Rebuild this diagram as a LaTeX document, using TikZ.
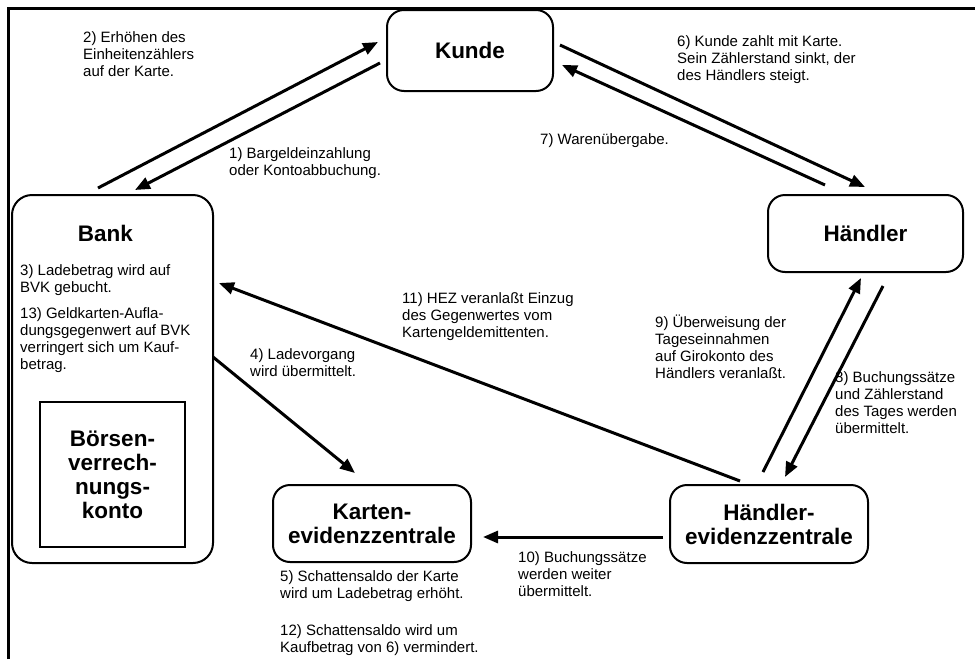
\documentclass[tikz,border=0pt]{standalone}
\usepackage{fontspec}
\setmainfont{Liberation Sans}
\usetikzlibrary{arrows.meta, positioning, calc}

\begin{document}
\begin{tikzpicture}[x=1pt, y=-1pt,
		box/.style={draw, line width=2pt, outer sep=0pt, rounded corners=17pt, align=center, font=\fontsize{22.5}{24}\selectfont\bfseries},
		note/.style={anchor=north west, inner sep=0pt, align=left, font=\fontsize{15}{17}\selectfont},
		flow/.style={->, line width=3pt},
		>={Triangle[length=15pt, width=12pt]}]
			\useasboundingbox (0,0) rectangle (975,659);
			% Frame
			\draw[line width=3pt] (8.5,659) -- (8.5,8.5) -- (975,8.5);
			% Boxes
			\node[box, minimum width=166pt, minimum height=81pt] (kunde) at (470,50.5) {Kunde};
			\node[box, minimum width=195pt, minimum height=77pt] (haendler) at (865.5,233.5) {Händler};
			\node[box, rounded corners=20pt, minimum width=201pt, minimum height=368pt] (bank) at (112.5,379) {};
			\node[box, rounded corners=0pt, minimum width=145pt, minimum height=145pt] (boersen) at (112.5,474.5) {Börsen-\\verrech-\\nungs-\\konto};
			\node[box, minimum width=198pt, minimum height=77pt] (karten) at (372,523.5) {Karten-\\evidenzzentrale};
			\node[box, minimum width=198pt, minimum height=78pt] (hez) at (769,524) {Händler-\\evidenzzentrale};
			\node[anchor=base, font=\fontsize{22.5}{24}\selectfont\bfseries] (banktitle) at (105.5,241) {Bank};
			% Flows
			\draw[flow] ($(kunde.west)+(-7,12.5)$) -- ($(bank.north west)+(123,-5)$);
			\draw[flow] ($(bank.north west)+(86,-7)$) -- ($(kunde.west)+(-9,-8.5)$);
			\draw[flow] ($(bank.east)+(0,-22)$) -- ($(karten.north)+(-17,-12)$);
			\draw[flow] ($(kunde.east)+(7,-5.5)$) -- ($(haendler.north)+(-0.5,-8)$);
			\draw[flow] ($(haendler.north)+(-40.5,-10)$) -- ($(kunde.east)+(9,14.5)$);
			\draw[flow] ($(haendler.south)+(17.5,14)$) -- ($(hez.north)+(16,-8)$);
			\draw[flow] ($(hez.north)+(-6,-13)$) -- ($(haendler.south)+(-4.5,6)$);
			\draw[flow] ($(hez.west)+(-7,13)$) -- ($(karten.east)+(12,13.5)$);
			\draw[flow] ($(hez.north)+(-29,-4)$) -- ($(bank.east)+(6,-96)$);
			% Notes
			\node[note] (n1) at (229,147) {1) Bargeldeinzahlung\\oder Kontoabbuchung.};
			\node[note] (n2) at (83,31) {2) Erhöhen des\\Einheitenzählers\\auf der Karte.};
			\node[note] (n3) at (20,264) {3) Ladebetrag wird auf\\BVK gebucht.};
			\node[note] (n4) at (250,348) {4) Ladevorgang\\wird übermittelt.};
			\node[note] (n5) at (280,570) {5) Schattensaldo der Karte\\wird um Ladebetrag erhöht.};
			\node[note] (n6) at (677,35) {6) Kunde zahlt mit Karte.\\Sein Zählerstand sinkt, der\\des Händlers steigt.};
			\node[note] (n7) at (540,133) {7) Warenübergabe.};
			\node[note] (n8) at (835,371) {8) Buchungssätze\\und Zählerstand\\des Tages werden\\übermittelt.};
			\node[note] (n9) at (655,314.5) {9) Überweisung der\\Tageseinnahmen\\auf Girokonto des\\Händlers veranlaßt.};
			\node[note] (n10) at (518,551) {10) Buchungssätze\\werden weiter\\übermittelt.};
			\node[note] (n11) at (402,292) {11) HEZ veranlaßt Einzug\\des Gegenwertes vom\\Kartengeldemittenten.};
			\node[note] (n12) at (280,624) {12) Schattensaldo wird um\\Kaufbetrag von 6) vermindert.};
			\node[note] (n13) at (20,307) {13) Geldkarten-Aufla-\\dungsgegenwert auf BVK\\verringert sich um Kauf-\\betrag.};
		\end{tikzpicture}
\end{document}
